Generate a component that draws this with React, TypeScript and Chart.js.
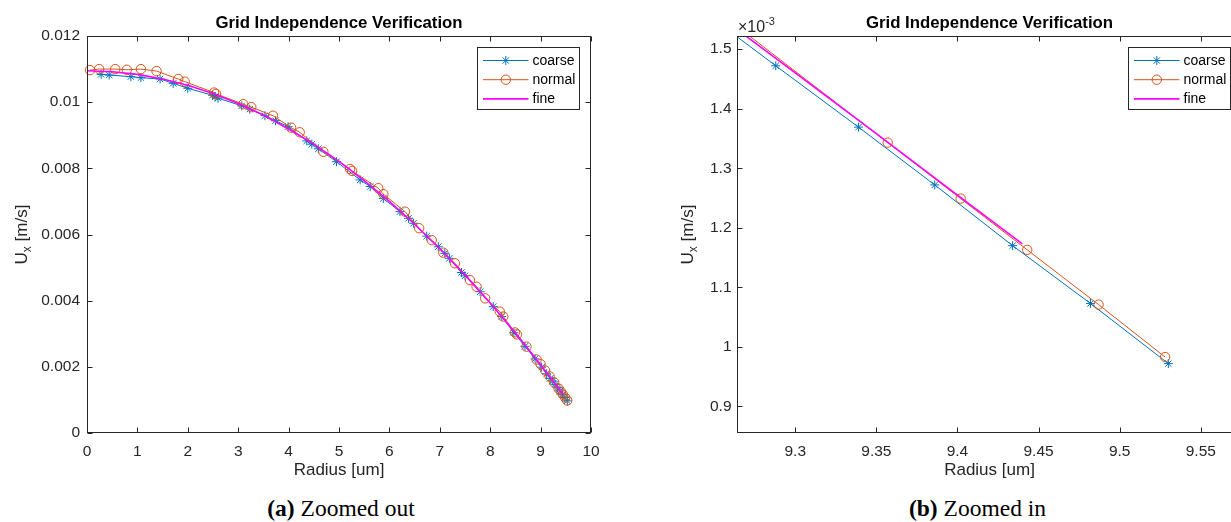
import React, { useEffect, useRef } from 'react';
import { Chart, registerables } from 'chart.js';

Chart.register(...registerables);

// ---------------- data ----------------
const coarseR = [0.28, 0.44, 0.87, 1.07, 1.45, 1.71, 2.0, 2.49, 2.54, 2.6, 3.07, 3.23, 3.53, 3.74, 3.99, 4.36, 4.46, 4.59, 4.95, 5.42, 5.62, 5.88, 6.21, 6.38, 6.48, 6.74, 6.97, 7.1, 7.19, 7.43, 7.5, 7.8, 8.06, 8.23, 8.47, 8.69, 8.89, 9.02, 9.12, 9.19, 9.24, 9.288, 9.339, 9.386, 9.434, 9.482, 9.53];
const coarseU = [0.01084, 0.01082, 0.01077, 0.01074, 0.0107, 0.01057, 0.01042, 0.01021, 0.01016, 0.01012, 0.00989, 0.00979, 0.00959, 0.00944, 0.00926, 0.00883, 0.00873, 0.00859, 0.0082, 0.00765, 0.00745, 0.00709, 0.00669, 0.00649, 0.00634, 0.00595, 0.00563, 0.00543, 0.00528, 0.00485, 0.00475, 0.00427, 0.00382, 0.00352, 0.00303, 0.00262, 0.00224, 0.00199, 0.00179, 0.00165, 0.00157, 0.001472, 0.001369, 0.001272, 0.00117, 0.001073, 0.000972];

const normalR = [0.06, 0.24, 0.56, 0.79, 1.07, 1.38, 1.81, 1.94, 2.52, 2.56, 3.1, 3.26, 3.69, 4.05, 4.22, 4.69, 5.22, 5.26, 5.78, 5.88, 6.31, 6.59, 6.84, 7.07, 7.3, 7.6, 7.73, 7.9, 8.19, 8.26, 8.49, 8.53, 8.72, 8.92, 9.0, 9.09, 9.18, 9.268, 9.357, 9.402, 9.443, 9.487, 9.528];
const normalU = [0.01097, 0.011, 0.011, 0.01098, 0.011, 0.01094, 0.0107, 0.01062, 0.01029, 0.01025, 0.00994, 0.00985, 0.00959, 0.00923, 0.00909, 0.0085, 0.00798, 0.00792, 0.0074, 0.00722, 0.00669, 0.00619, 0.00583, 0.00545, 0.00513, 0.00462, 0.00442, 0.00407, 0.00367, 0.00352, 0.00304, 0.00298, 0.00261, 0.00222, 0.00208, 0.00189, 0.00171, 0.00153, 0.001343, 0.001249, 0.001163, 0.001071, 0.000983];

const fineR = [0, 0.5, 1.0, 1.5, 2.0, 2.5, 3.0, 3.5, 4.0, 4.5, 5.0, 5.5, 6.0, 6.5, 7.0, 7.5, 8.0, 8.5, 8.8, 9.0, 9.2, 9.25, 9.3, 9.35, 9.4, 9.44];
const fineU = [0.01095, 0.01092, 0.01084, 0.0107, 0.01051, 0.01026, 0.00996, 0.00961, 0.00919, 0.00873, 0.00821, 0.00763, 0.007, 0.00631, 0.00557, 0.00478, 0.00393, 0.00302, 0.00245, 0.00206, 0.00166, 0.001562, 0.00146, 0.001358, 0.001255, 0.001173];

const seriesNames = ['coarse', 'normal', 'fine'];
const seriesColors = ['#0072BD', '#D95319', '#FF00FF'];

const leftXTicks = [0, 1, 2, 3, 4, 5, 6, 7, 8, 9, 10];
const leftYTicks = [0, 0.002, 0.004, 0.006, 0.008, 0.01, 0.012];
const rightXTicks = [9.3, 9.35, 9.4, 9.45, 9.5, 9.55];
const rightYTicks = [0.0009, 0.001, 0.0011, 0.0012, 0.0013, 0.0014, 0.0015];

const titleText = 'Grid Independence Verification';
const xTitleText = 'Radius [um]';
const yLabelMain = 'U';
const yLabelSub = 'x';
const yLabelUnit = ' [m/s]';
const exponentBase = '\u00d710';
const exponentPow = '-3';
const captionA = ['(a)', ' Zoomed out'];
const captionB = ['(b)', ' Zoomed in'];

// ---------------- styling ----------------
const FONT = '"Liberation Sans", Arial, Helvetica, sans-serif';
const AXIS_COLOR = '#262626';
const TEXT_COLOR = '#262626';

type PanelCfg = {
  xMin: number; xMax: number; yMin: number; yMax: number;
  xTicks: number[]; yTicks: number[];
  yFmt: (v: number) => string; xFmt: (v: number) => string;
  width: number; height: number; yAxisW: number; padRight: number;
  yLabelOffset: number; yTickPad: number; exponent: boolean; clip: boolean;
};

function decorPlugin(cfg: PanelCfg) {
  return {
    id: 'matlabDecor',
    afterDraw(chart: any) {
      const ctx = chart.ctx as CanvasRenderingContext2D;
      const ca = chart.chartArea;
      const xs = chart.scales.x;
      const ys = chart.scales.y;
      ctx.save();
      // axes box
      ctx.strokeStyle = AXIS_COLOR;
      ctx.lineWidth = 1;
      const L = Math.round(ca.left) + 0.5, T = Math.round(ca.top) + 0.5;
      const R = Math.round(ca.right) - 0.5, B = Math.round(ca.bottom) - 0.5;
      ctx.strokeRect(L, T, R - L, B - T);
      ctx.beginPath();
      cfg.xTicks.forEach((v) => {
        const p = Math.round(xs.getPixelForValue(v)) + 0.5;
        ctx.moveTo(p, B); ctx.lineTo(p, B - 5);
        ctx.moveTo(p, T); ctx.lineTo(p, T + 5);
      });
      cfg.yTicks.forEach((v) => {
        const p = Math.round(ys.getPixelForValue(v)) + 0.5;
        ctx.moveTo(L, p); ctx.lineTo(L + 5, p);
        ctx.moveTo(R, p); ctx.lineTo(R - 5, p);
      });
      ctx.stroke();

      // title
      ctx.fillStyle = '#000';
      ctx.font = `bold 16.8px ${FONT}`;
      ctx.textAlign = 'center';
      ctx.textBaseline = 'alphabetic';
      ctx.fillText(titleText, (ca.left + ca.right) / 2, 28);

      // y label with subscript
      ctx.save();
      ctx.fillStyle = TEXT_COLOR;
      ctx.translate(ca.left - cfg.yLabelOffset, (ca.top + ca.bottom) / 2);
      ctx.rotate(-Math.PI / 2);
      ctx.textAlign = 'left';
      ctx.font = `17px ${FONT}`;
      const wU = ctx.measureText(yLabelMain).width;
      const wUnit = ctx.measureText(yLabelUnit).width;
      ctx.font = `12px ${FONT}`;
      const wX = ctx.measureText(yLabelSub).width;
      let x0 = -(wU + wX + wUnit) / 2;
      ctx.font = `17px ${FONT}`;
      ctx.fillText(yLabelMain, x0, 0);
      x0 += wU;
      ctx.font = `12px ${FONT}`;
      ctx.fillText(yLabelSub, x0, 4);
      x0 += wX;
      ctx.font = `17px ${FONT}`;
      ctx.fillText(yLabelUnit, x0, 0);
      ctx.restore();

      // exponent
      if (cfg.exponent) {
        ctx.fillStyle = TEXT_COLOR;
        ctx.textAlign = 'left';
        ctx.font = `16px ${FONT}`;
        const bx = ca.left + 1;
        ctx.fillText(exponentBase, bx, 32);
        const wb = ctx.measureText(exponentBase).width;
        ctx.font = `11px ${FONT}`;
        ctx.fillText(exponentPow, bx + wb, 25);
      }

      // legend
      const lw = 102, lh = 62;
      const lx = Math.round(ca.right - 12 - lw) + 0.5;
      const ly = Math.round(ca.top + 11) + 0.5;
      ctx.fillStyle = '#fff';
      ctx.fillRect(lx, ly, lw, lh);
      ctx.strokeStyle = AXIS_COLOR;
      ctx.lineWidth = 1;
      ctx.strokeRect(lx, ly, lw, lh);
      seriesNames.forEach((name, i) => {
        const ry = ly + 13 + i * 19.2;
        ctx.strokeStyle = seriesColors[i];
        ctx.lineWidth = i === 2 ? 1.6 : 1;
        ctx.beginPath();
        ctx.moveTo(lx + 5.5, ry);
        ctx.lineTo(lx + 51, ry);
        ctx.stroke();
        const mx = lx + 28.3;
        if (i === 0) {
          const r = 4.5, d = r * Math.SQRT1_2;
          ctx.beginPath();
          ctx.moveTo(mx - r, ry); ctx.lineTo(mx + r, ry);
          ctx.moveTo(mx, ry - r); ctx.lineTo(mx, ry + r);
          ctx.moveTo(mx - d, ry - d); ctx.lineTo(mx + d, ry + d);
          ctx.moveTo(mx - d, ry + d); ctx.lineTo(mx + d, ry - d);
          ctx.stroke();
        } else if (i === 1) {
          ctx.beginPath();
          ctx.arc(mx, ry, 4.7, 0, Math.PI * 2);
          ctx.stroke();
        }
        ctx.fillStyle = '#000';
        ctx.font = `14px ${FONT}`;
        ctx.textAlign = 'left';
        ctx.textBaseline = 'middle';
        ctx.fillText(name, lx + 55, ry + 0.5);
      });
      ctx.restore();
    },
  };
}

function buildConfig(cfg: PanelCfg): any {
  const toPts = (xs: number[], ys: number[]) => xs.map((x, i) => ({ x, y: ys[i] }));
  return {
    type: 'scatter',
    data: {
      datasets: [
        {
          label: seriesNames[0], data: toPts(coarseR, coarseU), showLine: true,
          borderColor: seriesColors[0], backgroundColor: seriesColors[0], borderWidth: 1,
          pointStyle: 'star', pointRadius: 4.5, pointBorderWidth: 1, pointBorderColor: seriesColors[0],
          order: 2, clip: cfg.clip ? undefined : false,
        },
        {
          label: seriesNames[1], data: toPts(normalR, normalU), showLine: true,
          borderColor: seriesColors[1], backgroundColor: 'rgba(0,0,0,0)', borderWidth: 1,
          pointStyle: 'circle', pointRadius: 4.7, pointBorderWidth: 1, pointBorderColor: seriesColors[1],
          pointBackgroundColor: 'rgba(0,0,0,0)',
          order: 1, clip: cfg.clip ? undefined : false,
        },
        {
          label: seriesNames[2], data: toPts(fineR, fineU), showLine: true,
          borderColor: seriesColors[2], backgroundColor: seriesColors[2], borderWidth: 1.6,
          pointRadius: 0, order: 0, clip: cfg.clip ? undefined : false,
        },
      ],
    },
    options: {
      animation: false,
      responsive: false,
      devicePixelRatio: 1,
      layout: { padding: { top: 36, right: cfg.padRight, left: 0, bottom: 0 } },
      plugins: { legend: { display: false }, title: { display: false }, tooltip: { enabled: false } },
      scales: {
        x: {
          type: 'linear', min: cfg.xMin, max: cfg.xMax,
          afterBuildTicks: (ax: any) => { ax.ticks = cfg.xTicks.map((v) => ({ value: v })); },
          afterFit: (ax: any) => { ax.height = cfg.height - 433; },
          grid: { display: false, drawTicks: false },
          border: { display: false },
          ticks: {
            padding: 9, color: TEXT_COLOR, font: { family: FONT, size: 15.5 },
            maxRotation: 0, autoSkip: false, callback: (v: number) => cfg.xFmt(v),
          },
          title: {
            display: true, text: xTitleText, color: TEXT_COLOR,
            font: { family: FONT, size: 17 }, padding: { top: 0, bottom: 9 },
          },
        },
        y: {
          type: 'linear', min: cfg.yMin, max: cfg.yMax,
          afterBuildTicks: (ax: any) => { ax.ticks = cfg.yTicks.map((v) => ({ value: v })); },
          afterFit: (ax: any) => { ax.width = cfg.yAxisW; },
          grid: { display: false, drawTicks: false },
          border: { display: false },
          ticks: {
            padding: cfg.yTickPad, color: TEXT_COLOR, font: { family: FONT, size: 15.5 },
            autoSkip: false, callback: (v: number) => cfg.yFmt(v),
          },
        },
      },
    },
    plugins: [decorPlugin(cfg)],
  };
}

const leftCfg: PanelCfg = {
  xMin: 0, xMax: 10, yMin: 0, yMax: 0.012,
  xTicks: leftXTicks, yTicks: leftYTicks,
  xFmt: (v) => String(Number(v.toFixed(3))),
  yFmt: (v) => String(Number(v.toFixed(4))),
  width: 625, height: 490, yAxisW: 87, padRight: 625 - 591,
  yLabelOffset: 60, yTickPad: 7, exponent: false, clip: false,
};

const rightCfg: PanelCfg = {
  xMin: 9.2641, xMax: 9.5754, yMin: 0.0008555, yMax: 0.001522,
  xTicks: rightXTicks, yTicks: rightYTicks,
  xFmt: (v) => String(Number(v.toFixed(3))),
  yFmt: (v) => String(Number((v * 1000).toFixed(2))),
  width: 640, height: 490, yAxisW: 112, padRight: 640 - 617,
  yLabelOffset: 44, yTickPad: 5.5, exponent: true, clip: true,
};

function Panel({ cfg, left }: { cfg: PanelCfg; left: number }) {
  const ref = useRef<HTMLCanvasElement | null>(null);
  useEffect(() => {
    if (!ref.current) return;
    const chart = new Chart(ref.current, buildConfig(cfg));
    return () => chart.destroy();
  }, [cfg]);
  return (
    <canvas
      ref={ref}
      width={cfg.width}
      height={cfg.height}
      style={{ position: 'absolute', left, top: 0, width: cfg.width, height: cfg.height }}
    />
  );
}

function Caption({ parts, center }: { parts: string[]; center: number }) {
  return (
    <div
      style={{
        position: 'absolute', left: center - 200, width: 400, top: 496, textAlign: 'center',
        fontFamily: '"Liberation Serif", "Times New Roman", serif', fontSize: 23.5, lineHeight: '24px',
        color: '#000', whiteSpace: 'nowrap',
      }}
    >
      <b>{parts[0]}</b>
      {parts[1]}
    </div>
  );
}

export default function App() {
  return (
    <div
      style={{
        position: 'fixed', left: 0, top: 0, width: 1231, height: 522,
        overflow: 'hidden', background: '#fff',
      }}
    >
      <Panel cfg={leftCfg} left={0} />
      <Panel cfg={rightCfg} left={625} />
      <Caption parts={captionA} center={341} />
      <Caption parts={captionB} center={977.5} />
    </div>
  );
}
